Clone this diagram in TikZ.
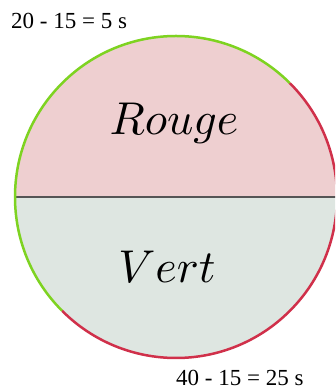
\documentclass[tikz,border=0pt]{standalone}
\usepackage{graphicx}
\usepackage{fontspec}
\newfontfamily\labelfont{Liberation Serif}
\definecolor{rougefill}{HTML}{EECFD0}
\definecolor{vertfill}{HTML}{DEE6E1}
\definecolor{vertarc}{HTML}{7ED321}
\definecolor{rougearc}{HTML}{D0304A}
\definecolor{axis}{HTML}{555555}
\newcommand{\phasename}[1]{\scalebox{4.6}{$#1$}}
\tikzset{
  phase/.style={anchor=base, inner sep=0pt},
  duree/.style={font=\labelfont\fontsize{23}{26}\selectfont, anchor=base west, inner sep=0pt},
  arcline/.style={line width=2.5pt},
}
\begin{document}
\begin{tikzpicture}[x=1pt,y=1pt]
\useasboundingbox (0,0) rectangle (335,387);
\clip (0,0) rectangle (335,387);
\def\R{161}
\coordinate (c) at (176,190);
\coordinate (w) at (15,190);
\coordinate (e) at (337,190);
% two half discs
\fill[rougefill] (w) arc[start angle=180, end angle=0, radius=\R] -- cycle;
\fill[vertfill] (w) arc[start angle=180, end angle=360, radius=\R] -- cycle;
% dividing diameter
\draw[axis, line width=1.3pt] (w) -- (e);
% green and red parts of the rim
\draw[vertarc, arcline] (c) ++(45:\R) arc[start angle=45, end angle=225, radius=\R];
\draw[rougearc, arcline] (c) ++(225:\R) arc[start angle=225, end angle=405, radius=\R];
% labels
\node[phase] (rouge) at (174,252) {\phasename{Rouge}};
\node[phase] (vert) at (167,104) {\phasename{Vert}};
\node[duree] (haut) at (11,358) {20 - 15 = 5 s};
\node[duree] (bas) at (176,1.5) {40 - 15 = 25 s};
\end{tikzpicture}
\end{document}
